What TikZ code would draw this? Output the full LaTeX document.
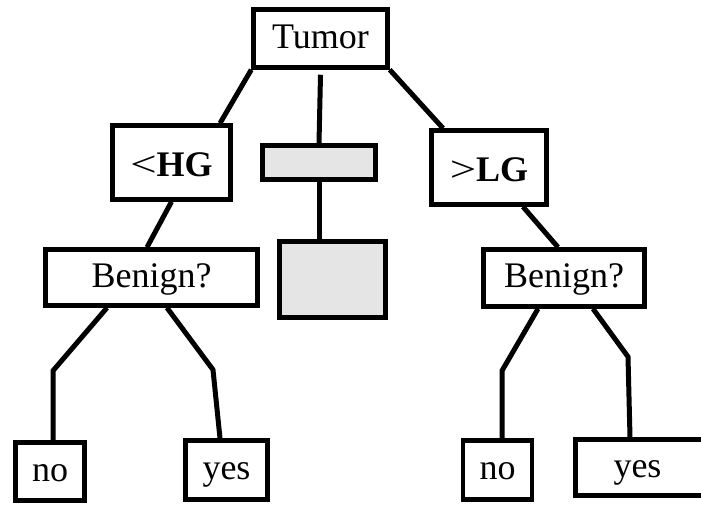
\documentclass[tikz,border=0pt]{standalone}
\usepackage{fontspec}
\usepackage{graphicx}
\setmainfont{Liberation Serif}
\newcommand{\relsign}[1]{\scalebox{1.3}[1]{#1}}
\begin{document}
\begin{tikzpicture}[x=1pt,y=-1pt,
  box/.style={draw=black,line width=4.5pt,fill=white,inner sep=0pt,
    font=\fontsize{36}{42}\selectfont,text height=25pt,text depth=6pt},
  boldbox/.style={box,text height=27pt,text depth=0pt},
  grey/.style={draw=black,line width=4.5pt,fill=black!10,inner sep=0pt},
  link/.style={line width=5pt}]
\useasboundingbox (0,0) rectangle (701,506);

% nodes
\node[box,minimum width=134pt,minimum height=58pt] (tumor) at (320.5,38.5) {Tumor};
\node[boldbox,minimum width=118pt,minimum height=74pt] (hg) at (171.5,162.5)
  {\relsign{<}\textbf{HG}};
\node[grey,minimum width=113pt,minimum height=34pt] (g1) at (319,162.5) {};
\node[grey,minimum width=106pt,minimum height=76pt] (g2) at (332.5,279.5) {};
\node[boldbox,minimum width=115pt,minimum height=74pt] (lg) at (489,167.5)
  {\relsign{>}\textbf{LG}};
\node[box,minimum width=212pt,minimum height=56pt] (ben1) at (151.5,277.5) {Benign?};
\node[box,minimum width=161pt,minimum height=57pt] (ben2) at (564,278) {Benign?};
\node[box,minimum width=69pt,minimum height=58pt] (no1) at (50,471.5) {no};
\node[box,minimum width=82pt,minimum height=59pt] (yes1) at (226.5,470) {yes};
\node[box,minimum width=69pt,minimum height=59pt] (no2) at (497.5,470) {no};
% this box runs on past the right edge of the page
\node[box,minimum width=135pt,minimum height=56pt] (yes2) at (643,467.5)
  {\hspace*{-11pt}yes};

% connectors
\draw[link] (tumor.south west) -- ([xshift=48.5pt]hg.north);
\draw[link] ([yshift=-5pt]tumor.south) -- (g1.north);
\draw[link] (tumor.south east) -- ([xshift=-46pt]lg.north);
\draw[link] (g1.south) -- (g1.south |- g2.north);
\draw[link] (hg.south) -- ([xshift=-4.5pt]ben1.north);
\draw[link] ([xshift=34pt]lg.south) -- ([xshift=-6pt]ben2.north);
\draw[link] ([xshift=-44.5pt]ben1.south) -- ++(-54,63) -- ([xshift=3pt]no1.north);
\draw[link] ([xshift=15.5pt]ben1.south) -- ++(46,62) -- ([xshift=-6.5pt]yes1.north);
\draw[link] ([xshift=-26pt]ben2.south) -- ++(-36,62) -- ([xshift=4.5pt]no2.north);
\draw[link] ([xshift=29pt]ben2.south) -- ++(35,48) -- ([xshift=-13pt]yes2.north);
\end{tikzpicture}
\end{document}
